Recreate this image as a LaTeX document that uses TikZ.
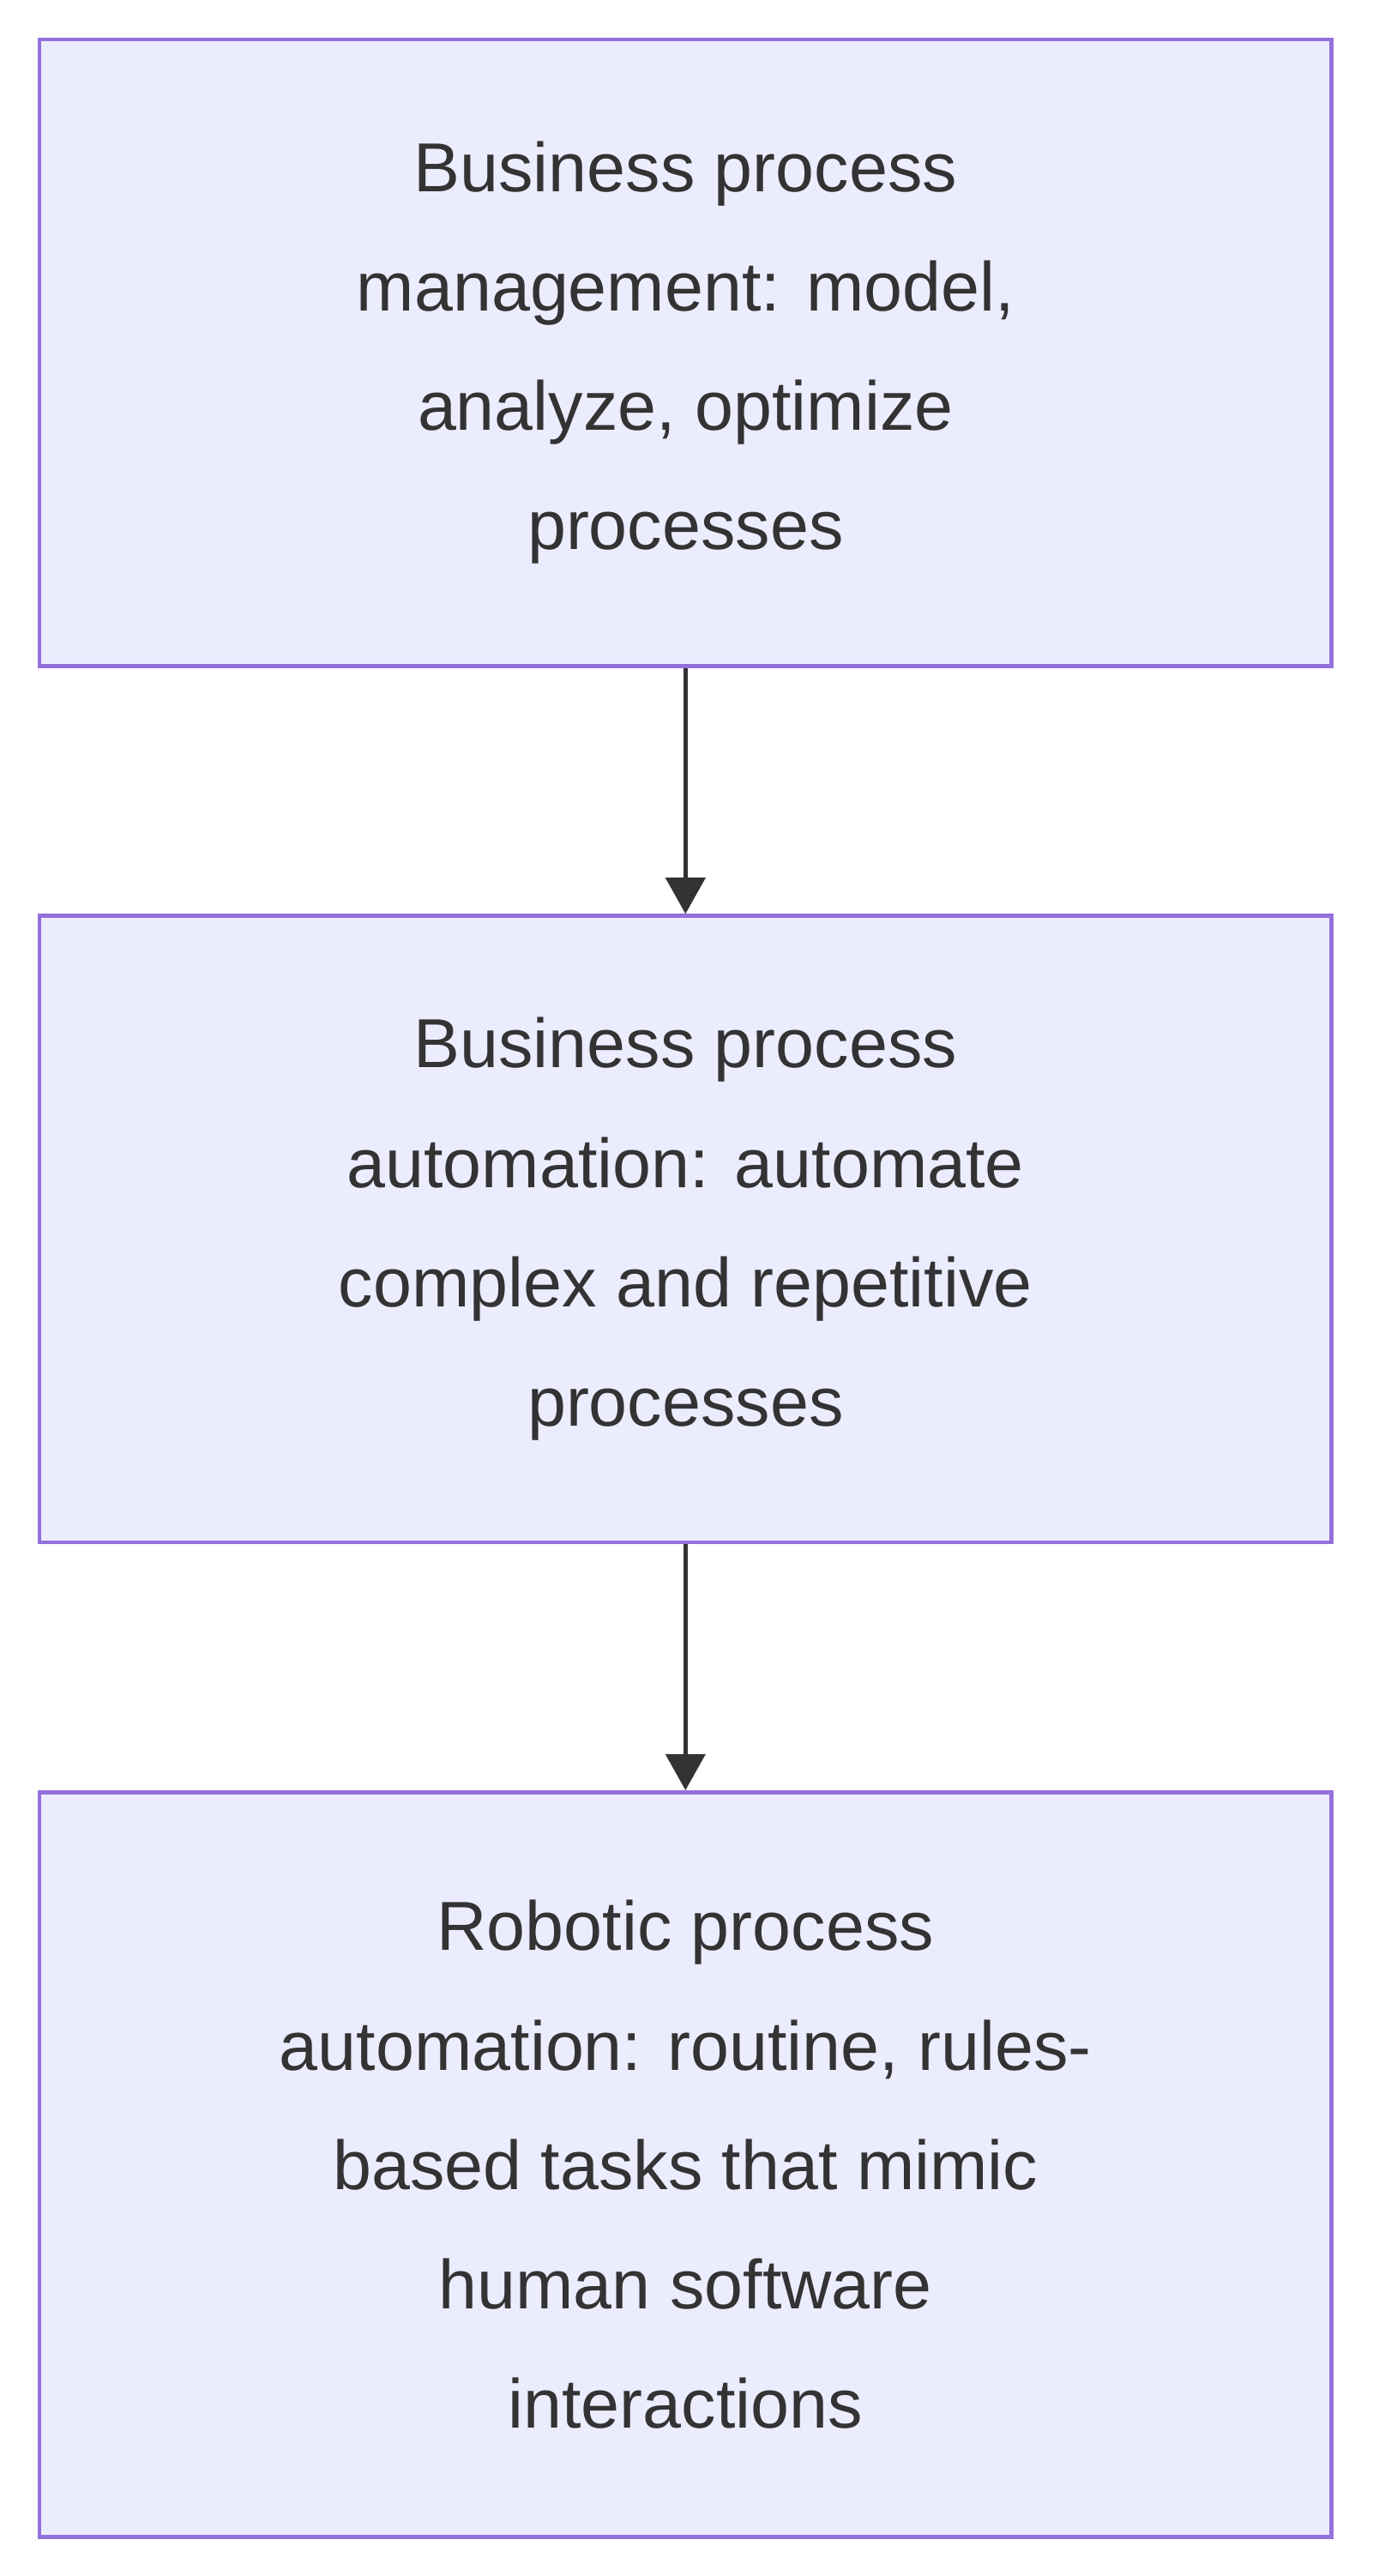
\documentclass[tikz,border=0pt]{standalone}
\usepackage{fontspec}
\setmainfont{Liberation Sans}
\usetikzlibrary{arrows.meta}
\definecolor{boxfill}{HTML}{ECECFF}
\definecolor{boxline}{HTML}{9370DB}
\definecolor{ink}{HTML}{333333}
\begin{document}
\begin{tikzpicture}
    \tikzset{
        procbox/.style={rectangle, draw=boxline, fill=boxfill, line width=2.1pt, text=ink,
            minimum width=23.58cm, align=center, font=\fontsize{36}{62}\selectfont},
        flow/.style={draw=ink, line width=2.1pt, -{Triangle[width=0.72cm,length=0.66cm]}}
    }
    \useasboundingbox (0,0) rectangle (25.05,-47.0);
    % Process levels
    \node[procbox, minimum height=11.43cm] (BPM) at (12.51,-6.435) {Business process\\management: model,\\analyze, optimize\\processes};
    \node[procbox, minimum height=11.43cm] (BPA) at (12.51,-22.425) {Business process\\automation: automate\\complex and repetitive\\processes};
    \node[procbox, minimum height=13.59cm] (RPA) at (12.51,-39.495) {Robotic process\\automation: routine, rules-\\based tasks that mimic\\human software\\interactions};
    % Connections
    \draw[flow] (BPM) -- (BPA);
    \draw[flow] (BPA) -- (RPA);
\end{tikzpicture}
\end{document}
